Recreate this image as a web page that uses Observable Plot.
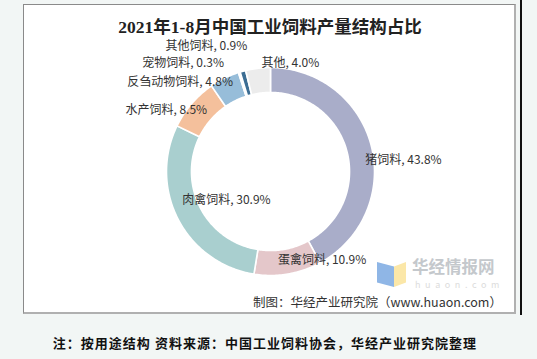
<!DOCTYPE html>
<html><head><meta charset="utf-8">
<script src="https://cdn.jsdelivr.net/npm/d3@7"></script>
<script src="https://cdn.jsdelivr.net/npm/@observablehq/plot@0.6"></script>
<style>
html,body{margin:0;padding:0;width:537px;height:359px;overflow:hidden;background:#f2f6f5;font-family:"Noto Sans CJK SC",sans-serif;}
#box{position:absolute;left:23px;top:4px;width:490px;height:307px;background:#fff;border:1px solid #8a8a8a;border-right:2px solid #b0b0b0;border-bottom:2px solid #b0b0b0;}
#vline{position:absolute;left:520px;top:0;width:1.5px;height:315px;background:#111;}
#chart{position:absolute;left:0;top:0;}
.t{position:absolute;white-space:nowrap;}
#title{left:0;width:540px;top:16px;text-align:center;font-family:"Liberation Serif","Noto Sans CJK SC",serif;font-weight:bold;font-size:17.5px;color:#222;line-height:22px;}
#caption{left:253px;top:294px;font-size:12.5px;color:#333;line-height:15px;}
#note{left:0;width:530px;text-align:center;top:335px;font-family:"Liberation Serif","Noto Sans CJK SC",serif;font-weight:bold;font-size:13px;letter-spacing:1px;color:#111;line-height:18px;}
#wm1{left:412px;top:258px;font-size:16.5px;font-weight:bold;color:#c4c8cc;line-height:17px;}
#wm2{left:415px;top:280px;font-size:9px;color:#dcdcdc;letter-spacing:4.6px;line-height:10px;}
#logoB{position:absolute;left:377px;top:262px;width:17px;height:25px;background:#8fb6e6;clip-path:polygon(0 0,100% 18%,100% 100%,0 82%);}
#logoY{position:absolute;left:394px;top:262px;width:12px;height:25px;background:#fbe7a8;clip-path:polygon(0 18%,100% 0,100% 82%,0 100%);}
</style></head>
<body>
<div id="box"></div>
<div id="vline"></div>
<div id="logoB"></div><div id="logoY"></div>
<div class="t" id="wm1">华经情报网</div>
<div class="t" id="wm2">huaon.com</div>
<div id="chart"></div>
<div class="t" id="title">2021年1-8月中国工业饲料产量结构占比</div>
<div class="t" id="caption">制图：华经产业研究院（www.huaon.com）</div>
<div class="t" id="note">注：按用途结构 资料来源：中国工业饲料协会，华经产业研究院整理</div>
<script>
const categories = ["猪饲料","蛋禽饲料","肉禽饲料","水产饲料","反刍动物饲料","宠物饲料","其他饲料","其他"];
const shares = [43.8,10.9,30.9,8.5,4.8,0.3,0.9,4.0];
const labels = ["猪饲料, 43.8%","蛋禽饲料, 10.9%","肉禽饲料, 30.9%","水产饲料, 8.5%","反刍动物饲料, 4.8%","宠物饲料, 0.3%","其他饲料, 0.9%","其他, 4.0%"];

// styling / layout (not data)
const colors = ["#a9adc9","#e4c7ca","#a9cfcf","#f4c09c","#97bdd9","#f6f6f6","#3c6d93","#ececec"];
const innerR = 0.76, labelR = 0.88;
const nudges = [[6,11,"start"],[-8,-2,"start"],[-7,-13,"start"],[6,-2,"end"],[3,-7,"end"],[-19,-21,"end"],[1,-37,"end"],[2,-17,"start"]];

const arcs = d3.pie().sort(null).value(d => d)(shares);
const pts = [];
arcs.forEach((a, i) => {
  const n = Math.max(4, Math.ceil((a.endAngle - a.startAngle) * 60));
  for (let k = 0; k <= n; k++) {
    const t = a.startAngle + (a.endAngle - a.startAngle) * k / n;
    pts.push({name: categories[i], x: Math.sin(t), y: Math.cos(t)});
  }
  for (let k = n; k >= 0; k--) {
    const t = a.startAngle + (a.endAngle - a.startAngle) * k / n;
    pts.push({name: categories[i], x: innerR * Math.sin(t), y: innerR * Math.cos(t)});
  }
});
const labelData = arcs.map((a, i) => {
  const m = (a.startAngle + a.endAngle) / 2;
  return {text: labels[i], x: labelR * Math.sin(m), y: labelR * Math.cos(m), i};
});

const plot = Plot.plot({
  width: 537, height: 359,
  margin: 0,
  style: {background: "transparent", overflow: "visible"},
  x: {domain: [-1, 1], range: [166, 374], axis: null},
  y: {domain: [-1, 1], range: [275, 67], axis: null},
  color: {domain: categories, range: colors},
  marks: [
    Plot.line(pts, {x: "x", y: "y", z: "name", fill: "name", stroke: "white", strokeWidth: 1.6, curve: "linear-closed"}),
    ...labelData.map(d => Plot.text([d], {
      x: "x", y: "y", text: "text",
      dx: nudges[d.i][0], dy: nudges[d.i][1], textAnchor: nudges[d.i][2],
      fontSize: 12, fill: "#333", fontFamily: "Noto Sans CJK SC"
    }))
  ]
});
document.getElementById("chart").appendChild(plot);
</script>
</body></html>
